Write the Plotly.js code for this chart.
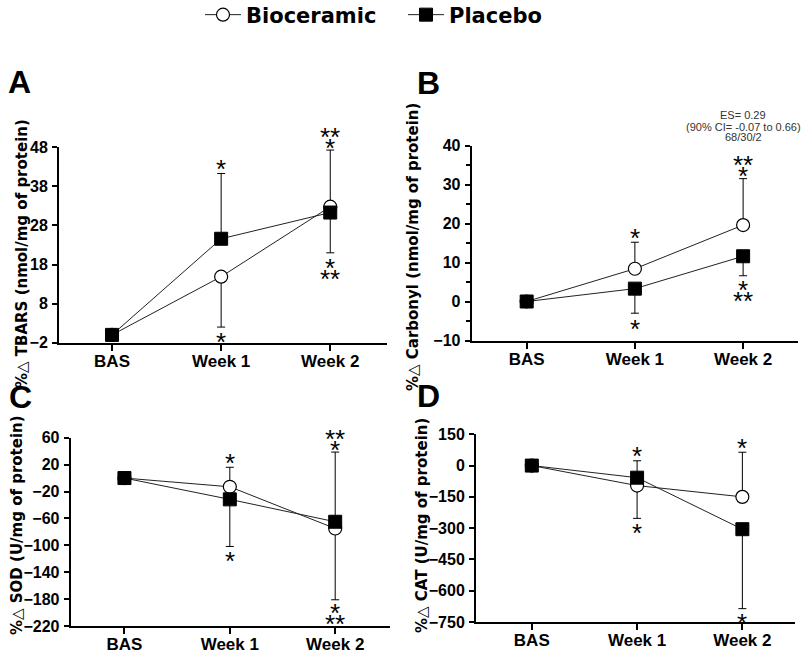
<!DOCTYPE html>
<html>
<head>
<meta charset="utf-8">
<script src="https://cdn.plot.ly/plotly-3.0.1.min.js"></script>
<style>html,body{margin:0;padding:0;background:#fff;}#chart{width:806px;height:653px;}</style>
</head>
<body>
<div id="chart"></div>
<script>
// ---- data ----
const categories = ['BAS', 'Week 1', 'Week 2'];
const xPos = [0, 1, 2];

// A: TBARS
const tbarsBio = [0, 14.9, 32.8];
const tbarsBioUp = [0, 0, 14.5];
const tbarsBioDown = [0, 12.9, 0];
const tbarsPla = [0, 24.6, 31.3];
const tbarsPlaUp = [0, 16.7, 0];
const tbarsPlaDown = [0, 0, 10.3];

// B: Carbonyl
const carbBio = [0, 8.4, 19.6];
const carbBioUp = [0, 6.8, 11.9];
const carbBioDown = [0, 0, 0];
const carbPla = [0, 3.3, 11.6];
const carbPlaUp = [0, 0, 0];
const carbPlaDown = [0, 6.3, 5.0];

// C: SOD
const sodBio = [0, -13, -75];
const sodBioUp = [0, 29, 0];
const sodBioDown = [0, 0, 106];
const sodPla = [0, -31.7, -65];
const sodPlaUp = [0, 0, 103.6];
const sodPlaDown = [0, 70, 0];

// D: CAT
const catBio = [0, -96, -150];
const catBioUp = [0, 0, 214];
const catBioDown = [0, 157, 0];
const catPla = [0, -58, -305];
const catPlaUp = [0, 81, 0];
const catPlaDown = [0, 0, 381];

// y-axis titles
const titleA = 'TBARS (nmol/mg of protein)';
const titleB = 'Carbonyl (nmol/mg of protein)';
const titleC = 'SOD (U/mg of protein)';
const titleD = 'CAT (U/mg of protein)';

// significance marks: [x index, anchor value, text, pixel offset]
const starsA = [[1, 41.3, '*', 10], [1, 2.0, '*', -9], [2, 47.3, '*', 8], [2, 47.3, '**', 19], [2, 21.0, '*', -9], [2, 21.0, '**', -20]];
const starsB = [[1, 15.2, '*', 10], [1, -3.0, '*', -10], [2, 31.5, '*', 8], [2, 31.5, '**', 19], [2, 6.6, '*', -9], [2, 6.6, '**', -20]];
const starsC = [[1, 16, '*', 10], [1, -102, '*', -9], [2, 38.6, '*', 8], [2, 38.6, '**', 19], [2, -181, '*', -8], [2, -181, '**', -19]];
const starsD = [[1, 23, '*', 10], [1, -253, '*', -9], [2, 64, '*', 10], [2, -686, '*', -9]];

const esLines = ['ES= 0.29', '(90% CI= -0.07 to 0.66)', '68/30/2'];

// ---- build ----
const FONT = '"Liberation Sans", Arial, Helvetica, sans-serif';
const WIDE = '"DejaVu Sans", Verdana, sans-serif';
const traces = [];
function addPanel(xa, ya, bio, bioUp, bioDown, pla, plaUp, plaDown, legend) {
  traces.push({
    type: 'scatter', mode: 'lines+markers', name: 'Bioceramic', x: xPos, y: bio,
    xaxis: xa, yaxis: ya, showlegend: legend, legend: 'legend',
    line: {color: '#222', width: 1},
    marker: {symbol: 'circle', size: 13, color: '#fff', line: {color: '#000', width: 1.2}},
    error_y: {type: 'data', symmetric: false, array: bioUp, arrayminus: bioDown, color: '#000', thickness: 1, width: 4}
  });
  traces.push({
    type: 'scatter', mode: 'lines+markers', name: 'Placebo', x: xPos, y: pla,
    xaxis: xa, yaxis: ya, showlegend: legend, legend: 'legend2',
    line: {color: '#222', width: 1},
    marker: {symbol: 'square', size: 13, color: '#000', line: {color: '#000', width: 1}},
    error_y: {type: 'data', symmetric: false, array: plaUp, arrayminus: plaDown, color: '#000', thickness: 1, width: 4}
  });
}
addPanel('x', 'y', tbarsBio, tbarsBioUp, tbarsBioDown, tbarsPla, tbarsPlaUp, tbarsPlaDown, true);
addPanel('x2', 'y2', carbBio, carbBioUp, carbBioDown, carbPla, carbPlaUp, carbPlaDown, false);
addPanel('x3', 'y3', sodBio, sodBioUp, sodBioDown, sodPla, sodPlaUp, sodPlaDown, false);
addPanel('x4', 'y4', catBio, catBioUp, catBioDown, catPla, catPlaUp, catPlaDown, false);

function xAxis(domain, range, anchor) {
  return {
    domain: domain, range: range, anchor: anchor, showgrid: false, zeroline: false,
    showline: true, linecolor: '#000', linewidth: 2,
    tickmode: 'array', tickvals: xPos, ticktext: categories,
    ticks: 'outside', ticklen: 6, tickwidth: 2, tickcolor: '#000',
    ticklabelstandoff: -4,
    tickfont: {family: FONT, size: 17, color: '#000', weight: 'bold'}
  };
}
function yAxis(domain, range, tick0, dtick, anchor, minorDtick) {
  const ax = {
    domain: domain, range: range, anchor: anchor, showgrid: false, zeroline: false,
    showline: true, linecolor: '#000', linewidth: 2,
    tickmode: 'linear', tick0: tick0, dtick: dtick,
    ticks: 'outside', ticklen: 5, tickwidth: 2, tickcolor: '#000',
    ticklabelstandoff: 1,
    tickfont: {family: FONT, size: 16, color: '#000', weight: 'bold'}
  };
  if (minorDtick) ax.minor = {dtick: minorDtick, ticks: 'outside', ticklen: 4, tickwidth: 1.5, tickcolor: '#000', showgrid: false};
  return ax;
}
const tri = '%<span style="font-weight:normal">△</span> ';

const annotations = [];
// y titles (rotated), positioned in paper pixels
const yTitles = [[titleA, 22, 254], [titleB, 413, 247], [titleC, 17, 525], [titleD, 422, 525]];
yTitles.forEach(t => annotations.push({
  xref: 'paper', yref: 'paper', x: t[1] / 806, y: 1 - t[2] / 653, text: tri + t[0],
  textangle: -90, showarrow: false, xanchor: 'center', yanchor: 'middle',
  font: {family: WIDE, size: 15, color: '#000', weight: 'bold'}
}));

const G = 5.7;
function addStars(list, xr, yr) {
  list.forEach(s => annotations.push({
    xref: xr, yref: yr, x: s[0], y: s[1], text: s[2], showarrow: false,
    xanchor: 'center', yanchor: 'middle', yshift: s[3] - G,
    font: {family: FONT, size: 26, color: '#000'}
  }));
}
addStars(starsA, 'x', 'y');
addStars(starsB, 'x2', 'y2');
addStars(starsC, 'x3', 'y3');
addStars(starsD, 'x4', 'y4');

const panelLabels = [['A', 6, 82], ['B', 415, 83], ['C', 7, 397], ['D', 415, 396]];
panelLabels.forEach(p => annotations.push({
  xref: 'paper', yref: 'paper', x: p[1] / 806, y: 1 - p[2] / 653, text: '<b>' + p[0] + '</b>',
  showarrow: false, xanchor: 'left', yanchor: 'middle',
  font: {family: FONT, size: 32, color: '#000'}
}));

const esY = [115, 126.7, 137];
esLines.forEach((t, i) => annotations.push({
  xref: 'paper', yref: 'paper', x: 743 / 806, y: 1 - esY[i] / 653, text: t,
  showarrow: false, xanchor: 'center', yanchor: 'middle',
  font: {family: FONT, size: 11, color: '#333'}
}));

const legendStyle = (x) => ({
  orientation: 'h', x: x, xanchor: 'left', y: 1 - 15 / 653, yanchor: 'middle',
  font: {family: WIDE, size: 21, color: '#000', weight: 'bold'},
  bgcolor: 'rgba(0,0,0,0)', itemwidth: 36, borderwidth: 0
});

const layout = {
  width: 806, height: 653,
  margin: {l: 0, r: 0, t: 0, b: 0, autoexpand: false},
  paper_bgcolor: '#fff', plot_bgcolor: 'rgba(0,0,0,0)',
  font: {family: FONT, color: '#000'},
  showlegend: true,
  legend: legendStyle(200 / 806),
  legend2: legendStyle(403 / 806),
  xaxis: xAxis([59 / 806, 387 / 806], [-0.486, 2.52], 'y'),
  yaxis: yAxis([1 - 342.7 / 653, 1 - 147.3 / 653], [-2, 48], -2, 10, 'x'),
  xaxis2: xAxis([471.7 / 806, 798.3 / 806], [-0.508, 2.51], 'y2'),
  yaxis2: yAxis([1 - 340.5 / 653, 1 - 145.5 / 653], [-10, 40], -10, 10, 'x2', 5),
  xaxis3: xAxis([70.7 / 806, 390 / 806], [-0.51, 2.52], 'y3'),
  yaxis3: yAxis([1 - 626 / 653, 1 - 437.7 / 653], [-220, 60], -220, 40, 'x3'),
  xaxis4: xAxis([476 / 806, 795 / 806], [-0.53, 2.5], 'y4'),
  yaxis4: yAxis([1 - 622 / 653, 1 - 434.3 / 653], [-750, 150], -750, 150, 'x4'),
  annotations: annotations
};

Plotly.newPlot('chart', traces, layout, {displayModeBar: false, staticPlot: true});
</script>
</body>
</html>
